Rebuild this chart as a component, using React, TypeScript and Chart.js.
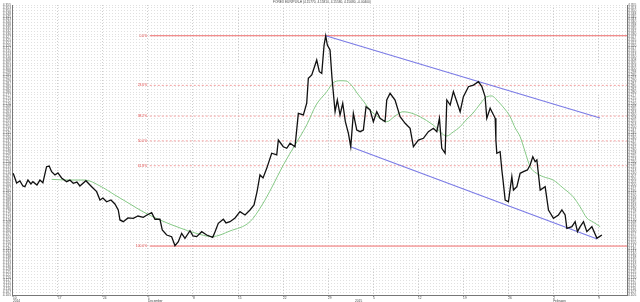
import React, { useEffect, useRef } from "react";
import { Chart, registerables } from "chart.js";
Chart.register(...registerables);

// trading-day index (0 = Mon 10 Nov 2014, weekends skipped) and EUR/PLN price
const priceIdx = [
  0.03, 0.22, 0.41, 0.78, 1.11, 1.33, 1.67, 2.0, 2.22, 2.67,
  3.0, 3.33, 3.74, 4.03, 4.3, 4.67, 5.0, 5.41, 5.97, 6.33,
  6.7, 7.11, 7.44, 8.11, 8.56, 8.89, 9.3, 9.67, 10.0, 10.41,
  10.89, 11.33, 11.7, 11.89, 12.26, 12.78, 13.37, 13.89, 14.48, 14.89,
  15.41, 15.78, 16.33, 16.59, 17.08, 17.63, 18.0, 18.37, 18.74, 19.11,
  19.67, 20.0, 20.41, 20.97, 21.52, 22.19, 22.44, 22.81, 23.37, 23.67,
  24.11, 24.67, 25.22, 25.78, 26.33, 26.78, 27.11, 27.44, 27.78, 28.19,
  28.74, 29.3, 29.48, 30.03, 30.41, 30.78, 31.33, 31.7, 32.26, 32.63,
  32.81, 33.19, 33.56, 33.74, 34.03, 34.3, 34.56, 34.74, 34.92, 35.22,
  35.44, 35.78, 36.03, 36.33, 36.63, 36.92, 37.26, 37.52, 37.81, 38.19,
  38.56, 38.92, 39.22, 39.67, 40.03, 40.41, 40.78, 41.33, 41.52, 41.89,
  42.44, 43.0, 43.56, 44.11, 44.48, 45.03, 45.59, 46.14, 46.7, 47.08,
  47.37, 47.63, 48.0, 48.19, 48.56, 48.92, 49.3, 49.67, 50.03, 50.59,
  51.14, 51.7, 52.08, 52.44, 52.63, 53.0, 53.56, 53.64, 53.74, 54.11,
  54.3, 54.41, 54.67, 55.03, 55.41, 55.59, 55.97, 56.33, 56.7, 57.14,
  57.44, 57.74, 58.0, 58.19, 58.56, 59.11, 59.48, 60.03, 60.59, 60.97,
  61.33, 61.52, 62.08, 62.44, 62.7, 63.0, 63.37, 63.74, 64.3, 64.86,
  65.14, 65.41,
];
const priceVal = [
  4.2099, 4.2059, 4.2016, 4.2033, 4.199, 4.1984, 4.2041, 4.2007, 4.2027, 4.1998,
  4.2041, 4.2018, 4.2156, 4.2162, 4.2113, 4.2085, 4.2102, 4.2059, 4.2027, 4.2041,
  4.2013, 4.2024, 4.199, 4.2035, 4.1998, 4.1972, 4.1941, 4.1869, 4.1886, 4.1854,
  4.1869, 4.1835, 4.1783, 4.1697, 4.1682, 4.1714, 4.1711, 4.1731, 4.172, 4.174,
  4.176, 4.1703, 4.1703, 4.161, 4.1567, 4.1553, 4.1475, 4.151, 4.1582, 4.1539,
  4.1604, 4.1559, 4.1553, 4.1596, 4.1567, 4.1547, 4.1593, 4.1668, 4.1703, 4.1671,
  4.1682, 4.1714, 4.1768, 4.174, 4.1783, 4.1826, 4.1938, 4.2085, 4.2059, 4.2142,
  4.2272, 4.2257, 4.2386, 4.2328, 4.2315, 4.2358, 4.2328, 4.2616, 4.2602, 4.2703,
  4.2918, 4.2947, 4.3033, 4.3076, 4.2975, 4.2961, 4.3205, 4.3285, 4.3205, 4.3162,
  4.2918, 4.263, 4.2731, 4.2602, 4.2703, 4.2544, 4.2444, 4.2328, 4.2616, 4.2472,
  4.2458, 4.2472, 4.2673, 4.2645, 4.2544, 4.263, 4.2573, 4.2544, 4.2731, 4.2789,
  4.2731, 4.2587, 4.253, 4.2487, 4.2328, 4.2386, 4.2401, 4.2458, 4.2487, 4.2458,
  4.2573, 4.2315, 4.2272, 4.2731, 4.2688, 4.2803, 4.2716, 4.263, 4.276, 4.2846,
  4.286, 4.2889, 4.2846, 4.276, 4.2573, 4.266, 4.2573, 4.2386, 4.2272, 4.2285,
  4.2128, 4.2056, 4.1869, 4.1854, 4.207, 4.1955, 4.1984, 4.2099, 4.2113, 4.2128,
  4.2171, 4.2242, 4.2199, 4.2214, 4.1955, 4.1984, 4.1783, 4.1711, 4.174, 4.1783,
  4.174, 4.1625, 4.1639, 4.1682, 4.1596, 4.1639, 4.1682, 4.1596, 4.1639, 4.1539,
  4.1553, 4.1567,
];

// moving average (green)
const maIdx = [
  4.3, 6.33, 8.0, 9.67, 11.33, 13.0, 14.44, 16.33, 18.56, 20.22,
  22.11, 24.11, 26.33, 27.67, 28.78, 30.03, 31.33, 32.63, 33.67, 34.86,
  35.56, 36.33, 37.0, 37.67, 38.22, 39.0, 39.67, 40.56, 41.52, 42.44,
  43.33, 44.22, 45.22, 46.67, 48.19, 48.89, 49.67, 50.33, 51.11, 51.89,
  52.63, 53.22, 53.74, 54.44, 55.22, 55.78, 56.33, 56.89, 57.44, 58.11,
  58.89, 60.0, 61.11, 62.22, 63.0, 63.74, 64.44, 65.22,
];
const maVal = [
  4.2047, 4.2041, 4.2041, 4.199, 4.1912, 4.1835, 4.1768, 4.1697, 4.1628, 4.1585,
  4.1553, 4.1602, 4.1682, 4.1826, 4.1981, 4.2171, 4.2343, 4.2516, 4.2688, 4.2803,
  4.2878, 4.2897, 4.2895, 4.2852, 4.2791, 4.2714, 4.2645, 4.2584, 4.2544, 4.2593,
  4.263, 4.2619, 4.2587, 4.2516, 4.2421, 4.2455, 4.2501, 4.2559, 4.2619, 4.2697,
  4.276, 4.2766, 4.2731, 4.2671, 4.2587, 4.249, 4.2415, 4.2283, 4.2156, 4.2102,
  4.207, 4.2041, 4.1972, 4.1897, 4.1809, 4.1714, 4.1679, 4.1639,
];

// Fibonacci retracement
const fibHigh = 4.3285;
const fibLow = 4.1472;
const fibStartIdx = 15.2;
const fibRatios = [0, 0.236, 0.382, 0.5, 0.618, 1];
const fibLabels = ["0.0%", "23.6%", "38.2%", "50.0%", "61.8%", "100.0%"];

// trend channel (blue)
const upperIdx = [34.74, 65.2];
const upperVal = [4.3285, 4.2576];
const lowerIdx = [37.56, 64.89];
const lowerVal = [4.2326, 4.1533];

// x axis ticks
const xTickIdx = [0, 5, 10, 15, 20, 25, 30, 35, 38, 40, 45, 50, 55, 60, 65];
const xTickDay = ["10", "17", "24", "1", "8", "15", "22", "29", "", "5", "12", "19", "26", "2", "9"];
const xTickPeriod = ["2014", "", "", "December", "", "", "", "", "2015", "", "", "", "", "February", ""];
const noMarkIdx = 38;

const xMin = -0.1;
const xMax = 68.2;
const yMin = 4.105;
const yMax = 4.355;
const yStep = 0.0025;
const titleText = "FOREX EUR/PLN-H (4.15770, 4.15810, 4.15580, 4.15680, -0.00400)";

const FONT = "'Liberation Sans', Arial, sans-serif";

export default function App() {
  const ref = useRef<HTMLCanvasElement>(null);

  useEffect(() => {
    const canvas = ref.current;
    if (!canvas) return;
    const toPts = (xs: number[], ys: number[]) => xs.map((x, i) => ({ x, y: ys[i] }));
    const fibLevels = fibRatios.map((r) => fibHigh - r * (fibHigh - fibLow));
    const isEdge = (i: number) => i === 0 || i === fibLevels.length - 1;

    const fibSets = fibLevels.map((lv, i) => ({
      label: fibLabels[i],
      data: [
        { x: fibStartIdx, y: lv },
        { x: xMax, y: lv },
      ],
      borderColor: isEdge(i) ? "#ef6b6b" : "#f3a0a0",
      borderWidth: 1,
      borderDash: isEdge(i) ? [] : [2, 2],
      pointRadius: 0,
    }));

    const annot = {
      id: "annot",
      afterDatasetsDraw(chart: any) {
        const { ctx, scales } = chart;
        ctx.save();
        ctx.font = `3.4px ${FONT}`;
        ctx.fillStyle = "#e04848";
        ctx.textAlign = "right";
        ctx.textBaseline = "middle";
        const lx = scales.x.getPixelForValue(fibStartIdx) - 2.5;
        fibLevels.forEach((lv, i) => {
          ctx.fillText(fibLabels[i], lx, scales.y.getPixelForValue(lv));
        });
        ctx.font = `3.2px ${FONT}`;
        ctx.fillStyle = "#444";
        ctx.textAlign = "center";
        ctx.textBaseline = "top";
        ctx.fillText(titleText, 322, 1);
        ctx.restore();
      },
    };

    const yTickCb = (v: any) => Number(v).toFixed(3);

    const chart = new Chart(canvas, {
      type: "line",
      data: {
        datasets: [
          {
            label: "EUR/PLN",
            data: toPts(priceIdx, priceVal),
            borderColor: "#111",
            borderWidth: 1.3,
            pointRadius: 0,
            tension: 0,
          },
          {
            label: "upper",
            data: toPts(upperIdx, upperVal),
            borderColor: "#7b7be6",
            borderWidth: 1.2,
            pointRadius: 0,
          },
          {
            label: "lower",
            data: toPts(lowerIdx, lowerVal),
            borderColor: "#7b7be6",
            borderWidth: 1.2,
            pointRadius: 0,
          },
          {
            label: "MA",
            data: toPts(maIdx, maVal),
            borderColor: "#86c986",
            borderWidth: 1,
            pointRadius: 0,
            cubicInterpolationMode: "monotone",
          },
          ...fibSets,
        ] as any,
      },
      options: {
        animation: false,
        responsive: false,
        events: [],
        layout: { padding: { top: 5, left: 0, right: 0, bottom: 0 } },
        plugins: {
          legend: { display: false },
          tooltip: { enabled: false },
          title: { display: false },
        },
        scales: {
          x: {
            type: "linear",
            position: "bottom",
            min: xMin,
            max: xMax,
            afterBuildTicks: (scale: any) => {
              scale.ticks = xTickIdx.map((v) => ({ value: v }));
            },
            afterFit: (scale: any) => {
              scale.height = 7;
            },
            ticks: {
              autoSkip: false,
              maxRotation: 0,
              align: "start",
              padding: 0,
              color: "#444",
              font: { size: 3.2, family: FONT, lineHeight: 1 },
              callback: (v: any) => {
                const i = xTickIdx.indexOf(Number(v));
                return i < 0 ? "" : [xTickDay[i], xTickPeriod[i]];
              },
            },
            grid: {
              color: (c: any) => (c.tick && c.tick.value === noMarkIdx ? "rgba(0,0,0,0)" : "#cdcdcd"),
              tickColor: (c: any) => (c.tick && c.tick.value === noMarkIdx ? "rgba(0,0,0,0)" : "#777"),
              tickLength: 1.5,
              lineWidth: 1,
            },
            border: { color: "#777", dash: [1, 2] },
          },
          y: {
            type: "linear",
            position: "left",
            min: yMin,
            max: yMax,
            afterFit: (scale: any) => {
              scale.width = 12;
            },
            ticks: {
              stepSize: yStep,
              autoSkip: false,
              padding: 1,
              color: "#555",
              font: { size: 3.3, family: FONT },
              callback: yTickCb,
            },
            grid: { color: "#e0e0e0", drawTicks: false, lineWidth: 1 },
            border: { color: "#777", dash: [1, 2] },
          },
          y2: {
            type: "linear",
            position: "right",
            min: yMin,
            max: yMax,
            afterFit: (scale: any) => {
              scale.width = 13;
            },
            ticks: {
              stepSize: yStep,
              autoSkip: false,
              padding: 1,
              color: "#555",
              font: { size: 3.3, family: FONT },
              callback: yTickCb,
            },
            grid: { drawOnChartArea: false, drawTicks: false },
            border: { color: "#777" },
          },
        },
      } as any,
      plugins: [annot],
    });
    return () => chart.destroy();
  }, []);

  return (
    <div style={{ position: "fixed", left: 0, top: 0, width: 640, height: 302, background: "#fff" }}>
      <canvas ref={ref} width={640} height={302} style={{ display: "block" }} />
    </div>
  );
}
